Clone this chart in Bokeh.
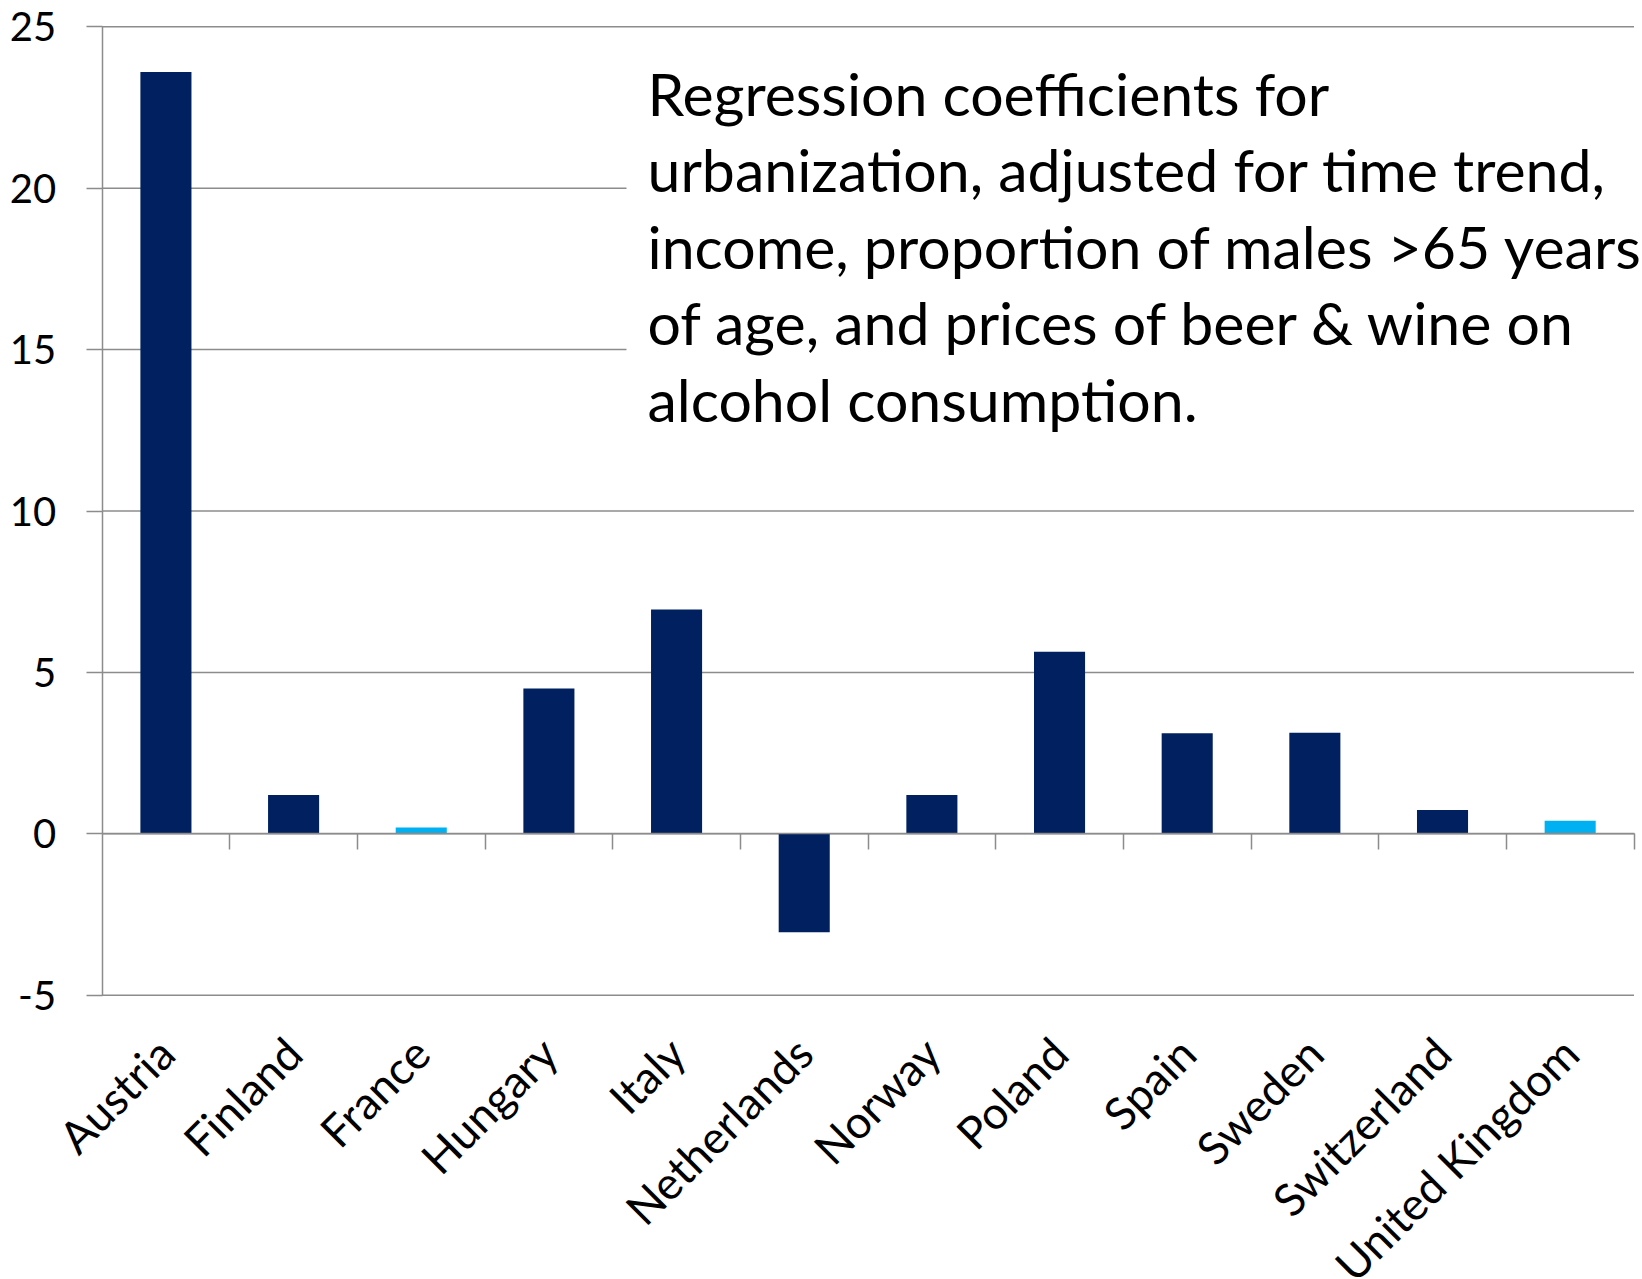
from math import pi

from bokeh.embed import file_html
from bokeh.models import (BoxAnnotation, ColumnDataSource, FixedTicker,
                          Label, LinearAxis, Range1d)
from bokeh.plotting import figure
from bokeh.resources import INLINE

# ---- data -------------------------------------------------------------
countries = ["Austria", "Finland", "France", "Hungary", "Italy", "Netherlands",
             "Norway", "Poland", "Spain", "Sweden", "Switzerland", "United Kingdom"]
coefficients = [23.6, 1.2, 0.2, 4.5, 6.95, -3.05, 1.2, 5.64, 3.12, 3.13, 0.74, 0.41]
light_bar = [False, False, True, False, False, False,
             False, False, False, False, False, True]
y_ticks = [-5, 0, 5, 10, 15, 20, 25]
note_lines = [
    "Regression coefficients for",
    "urbanization, adjusted for time trend,",
    "income, proportion of males >65 years",
    "of age, and prices of beer & wine on",
    "alcohol consumption.",
]

# ---- style / layout ---------------------------------------------------
DARK = "#002060"
LIGHT = "#00B0F0"
GREY = "#8c8c8c"
FONT = "Lato"

W, H = 1642, 1279
# pixel box of the value area inside the canvas; the canvas itself is the
# frame so that the rotated category names below it are not clipped
AREA_LEFT, AREA_RIGHT, AREA_TOP, AREA_BOTTOM = 101.6, 1633.5, 26.2, 994.8

n = len(countries)
y_lo, y_hi = y_ticks[0], y_ticks[-1]
px_per_x = (AREA_RIGHT - AREA_LEFT) / n
px_per_y = (AREA_BOTTOM - AREA_TOP) / (y_hi - y_lo)
x_range = Range1d(0 - AREA_LEFT / px_per_x, n + (W - AREA_RIGHT) / px_per_x)
y_range = Range1d(y_lo - (H - AREA_BOTTOM) / px_per_y, y_hi + AREA_TOP / px_per_y)

positions = [i + 0.5 for i in range(n)]
source = ColumnDataSource(dict(
    x=positions,
    top=coefficients,
    color=[LIGHT if lb else DARK for lb in light_bar],
))

p = figure(
    width=W, height=H,
    output_backend="svg", toolbar_location=None,
    x_range=x_range, y_range=y_range,
    x_axis_type=None, y_axis_type=None,
    min_border=0,
)
p.outline_line_color = None
p.background_fill_color = "white"
p.border_fill_color = "white"
p.xgrid.visible = False
p.ygrid.visible = False

# horizontal gridlines across the category span
grid = p.segment(x0=0, x1=n, y0=y_ticks, y1=y_ticks,
                 line_color=GREY, line_width=1.5)
grid.level = "underlay"

# value axis
yaxis = LinearAxis(ticker=FixedTicker(ticks=y_ticks), fixed_location=0,
                   bounds=(y_lo, y_hi))
yaxis.major_label_overrides = {t: str(t) for t in y_ticks}
yaxis.axis_line_color = GREY
yaxis.axis_line_width = 1.5
yaxis.major_tick_line_color = GREY
yaxis.major_tick_line_width = 1.5
yaxis.major_tick_out = 16
yaxis.major_tick_in = 0
yaxis.minor_tick_line_color = None
yaxis.major_label_text_font = FONT
yaxis.major_label_text_font_size = "40px"
yaxis.major_label_text_color = "black"
yaxis.major_label_standoff = 30
p.add_layout(yaxis, "left")

# category axis crossing at zero, with tick marks between the categories
zero_axis = LinearAxis(ticker=FixedTicker(ticks=list(range(1, n + 1))),
                       fixed_location=0, bounds=(0, n))
zero_axis.axis_line_color = GREY
zero_axis.axis_line_width = 1.5
zero_axis.major_tick_line_color = GREY
zero_axis.major_tick_line_width = 1.5
zero_axis.major_tick_out = 16
zero_axis.major_tick_in = 0
zero_axis.minor_tick_line_color = None
zero_axis.major_label_text_color = None
p.add_layout(zero_axis, "below")

# category names, rotated, under the value area
name_axis = LinearAxis(ticker=FixedTicker(ticks=positions),
                       fixed_location=y_lo, bounds=(0, n))
name_axis.major_label_overrides = dict(zip(positions, countries))
name_axis.major_label_orientation = pi / 4
name_axis.axis_line_color = None
name_axis.major_tick_line_color = None
name_axis.minor_tick_line_color = None
name_axis.major_tick_out = 0
name_axis.major_tick_in = 0
name_axis.major_label_standoff = 50
name_axis.major_label_text_font = FONT
name_axis.major_label_text_font_size = "45px"
name_axis.major_label_text_color = "black"
p.add_layout(name_axis, "below")

# bars
p.vbar(x="x", top="top", bottom=0, width=0.4, fill_color="color",
       line_color=None, source=source)

# note text box
p.add_layout(BoxAnnotation(left=626, left_units="screen",
                           right=W + 100, right_units="screen",
                           top=H - 45, top_units="screen",
                           bottom=H - 455, bottom_units="screen",
                           fill_color="white", fill_alpha=1.0,
                           line_color=None))
for i, line in enumerate(note_lines):
    p.add_layout(Label(x=647, y=H - 93 - i * 76.4, x_units="screen", y_units="screen",
                       text=line, text_font=FONT, text_font_size="59px",
                       text_color="black", text_align="left",
                       text_baseline="alphabetic"))

open("out.html", "w").write(file_html(p, INLINE))
